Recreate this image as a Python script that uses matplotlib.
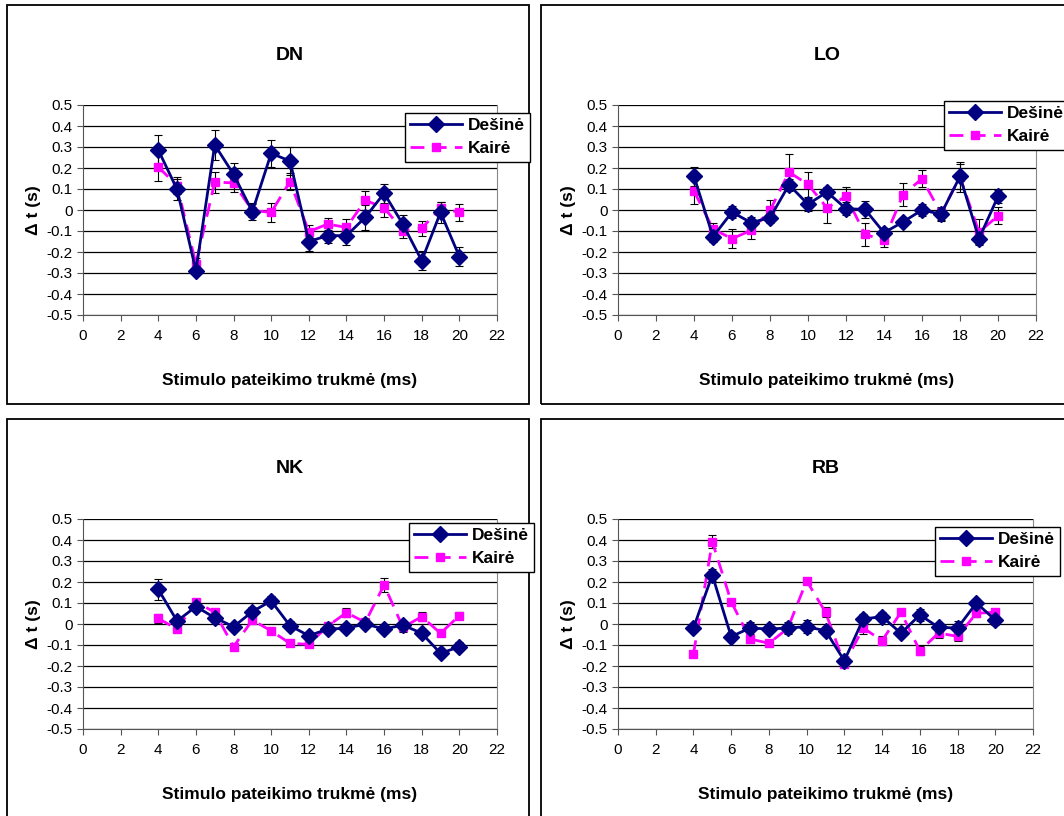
import numpy as np
import matplotlib
matplotlib.use("Agg")
import matplotlib.pyplot as plt
from matplotlib.patches import Rectangle
from matplotlib.ticker import FuncFormatter

plt.rcParams['font.family'] = ['Liberation Sans', 'DejaVu Sans']

x = list(range(4, 21))

# DN
dn_des = [0.286, 0.098, -0.289, 0.31, 0.17, -0.008, 0.27, 0.233, -0.15, -0.122, -0.122,
          -0.035, 0.08, -0.068, -0.241, -0.011, -0.222]
dn_des_err = [0.07, 0.05, 0.02, 0.07, 0.055, 0.04, 0.065, 0.065, 0.045, 0.035, 0.045,
              0.06, 0.045, 0.045, 0.045, 0.05, 0.045]
dn_kai = [0.205, 0.116, -0.257, 0.133, 0.129, -0.003, -0.011, 0.135, -0.103, -0.067, -0.083,
          0.046, 0.011, -0.098, -0.087, 0.008, -0.011]
dn_kai_err = [0.065, 0.04, 0.03, 0.05, 0.045, 0.03, 0.045, 0.04, 0.03, 0.03, 0.04,
              0.045, 0.045, 0.035, 0.035, 0.03, 0.04]

# LO
lo_des = [0.16, -0.127, -0.01, -0.06, -0.037, 0.12, 0.027, 0.086, 0.006, 0.003, -0.108,
          -0.057, 0.0, -0.02, 0.16, -0.137, 0.065]
lo_des_err = [0.045, 0.025, 0.03, 0.025, 0.025, 0.03, 0.03, 0.025, 0.03, 0.04, 0.02,
              0.02, 0.03, 0.03, 0.06, 0.025, 0.03]
lo_kai = [0.09, -0.09, -0.137, -0.097, -0.002, 0.18, 0.122, 0.01, 0.066, -0.116, -0.144,
          0.073, 0.149, -0.016, 0.157, -0.105, -0.028]
lo_kai_err = [0.06, 0.03, 0.045, 0.04, 0.05, 0.085, 0.06, 0.07, 0.045, 0.055, 0.03,
              0.055, 0.04, 0.03, 0.07, 0.06, 0.04]

# NK
nk_des = [0.165, 0.014, 0.083, 0.03, -0.013, 0.059, 0.11, -0.008, -0.056, -0.024, -0.02,
          0.0, -0.024, -0.005, -0.044, -0.14, -0.108]
nk_des_err = [0.05, 0.02, 0.015, 0.02, 0.01, 0.02, 0.025, 0.02, 0.02, 0.015, 0.015,
              0.015, 0.02, 0.02, 0.02, 0.015, 0.02]
nk_kai = [0.027, -0.025, 0.105, 0.056, -0.108, 0.019, -0.033, -0.092, -0.097, -0.01, 0.054,
          0.008, 0.186, -0.016, 0.035, -0.044, 0.04]
nk_kai_err = [0.02, 0.015, 0.015, 0.015, 0.015, 0.015, 0.01, 0.01, 0.01, 0.01, 0.02,
              0.015, 0.035, 0.02, 0.02, 0.01, 0.015]

# RB
rb_des = [-0.019, 0.233, -0.06, -0.019, -0.024, -0.019, -0.013, -0.032, -0.175, 0.024, 0.035,
          -0.044, 0.043, -0.016, -0.019, 0.1, 0.019]
rb_des_err = [0.015, 0.03, 0.02, 0.03, 0.015, 0.03, 0.03, 0.02, 0.02, 0.025, 0.02,
              0.02, 0.03, 0.02, 0.035, 0.02, 0.025]
rb_kai = [-0.143, 0.392, 0.106, -0.071, -0.092, -0.021, 0.206, 0.056, -0.19, -0.019, -0.079,
          0.056, -0.127, -0.043, -0.059, 0.051, 0.056]
rb_kai_err = [0.015, 0.03, 0.01, 0.02, 0.015, 0.02, 0.015, 0.025, 0.015, 0.03, 0.02,
              0.01, 0.02, 0.025, 0.02, 0.02, 0.015]

W, H = 1064, 816
fig = plt.figure(figsize=(W / 100, H / 100), dpi=100)


def px_rect(x0, y0, x1, y1):
    # pixel box (top-left origin) -> figure fraction [left, bottom, width, height]
    return [x0 / W, (H - y1) / H, (x1 - x0) / W, (y1 - y0) / H]


def ytick_fmt(v, pos):
    v = round(v, 1)
    return "0" if v == 0 else f"{v:g}"


def panel(title, box, axbox, leg_xy, des, des_err, kai, kai_err):
    l, b, w, h = px_rect(*box)
    fig.patches.append(Rectangle((l, b), w, h, transform=fig.transFigure,
                                 fill=False, edgecolor='black', lw=1.3))
    ax = fig.add_axes(px_rect(*axbox))
    ax.set_xlim(0, 22)
    ax.set_ylim(-0.5, 0.5)
    ax.set_xticks(range(0, 23, 2))
    ax.set_yticks(np.round(np.arange(-0.5, 0.51, 0.1), 1))
    ax.yaxis.set_major_formatter(FuncFormatter(ytick_fmt))
    ax.tick_params(labelsize=11, length=4, width=0.8, color='#555555')
    ax.tick_params(axis='x', pad=6)
    ax.grid(axis='y', color='black', lw=0.9)
    ax.set_axisbelow(True)
    ax.spines['top'].set_visible(False)
    ax.spines['right'].set_color('#888888')
    for s in ('left', 'bottom'):
        ax.spines[s].set_color('#555555')

    ax.errorbar(x, des, yerr=des_err, fmt='none', ecolor='black', elinewidth=0.8,
                capsize=3, capthick=0.8, zorder=3)
    ax.errorbar(x, kai, yerr=kai_err, fmt='none', ecolor='black', elinewidth=0.8,
                capsize=3, capthick=0.8, zorder=3)
    h1, = ax.plot(x, des, color='#000080', lw=2, marker='D', ms=8,
                  mfc='#000080', mec='#000080', zorder=5, label='Dešinė')
    h2, = ax.plot(x, kai, color='#FF00FF', lw=2, ls=(0, (5, 3)), marker='s', ms=6,
                  mfc='#FF00FF', mec='#FF00FF', zorder=4, label='Kairė')

    cx = (axbox[0] + axbox[2]) / 2
    fig.text(cx / W, 1 - (box[1] + 50) / H, title, ha='center',
             va='center', fontsize=14, fontweight='bold')
    ax.set_xlabel('Stimulo pateikimo trukmė (ms)', fontsize=12.5, fontweight='bold',
                  labelpad=22)
    ax.set_ylabel('Δ t (s)', fontsize=12.5, fontweight='bold', labelpad=4)

    lx, ly = leg_xy
    leg = fig.legend(handles=[h1, h2], loc='upper left',
                     bbox_to_anchor=(lx / W, 1 - ly / H), frameon=True,
                     fancybox=False, edgecolor='black', framealpha=1,
                     prop={'weight': 'bold', 'size': 12.5}, handlelength=3,
                     handletextpad=0.3, borderpad=0.3, labelspacing=0.45,
                     borderaxespad=0)
    leg.get_frame().set_linewidth(1.0)
    return ax


panel('DN', (7, 5, 529, 404), (83, 105, 497, 315), (405, 113),
      dn_des, dn_des_err, dn_kai, dn_kai_err)
panel('LO', (541, 5, 1075, 404), (618, 105, 1036, 315), (944, 101),
      lo_des, lo_des_err, lo_kai, lo_kai_err)
panel('NK', (7, 419, 529, 825), (83, 519, 497, 729), (409, 523),
      nk_des, nk_des_err, nk_kai, nk_kai_err)
panel('RB', (541, 419, 1075, 825), (618, 519, 1033, 729), (935, 527),
      rb_des, rb_des_err, rb_kai, rb_kai_err)

fig.savefig('out.png', dpi=100)
